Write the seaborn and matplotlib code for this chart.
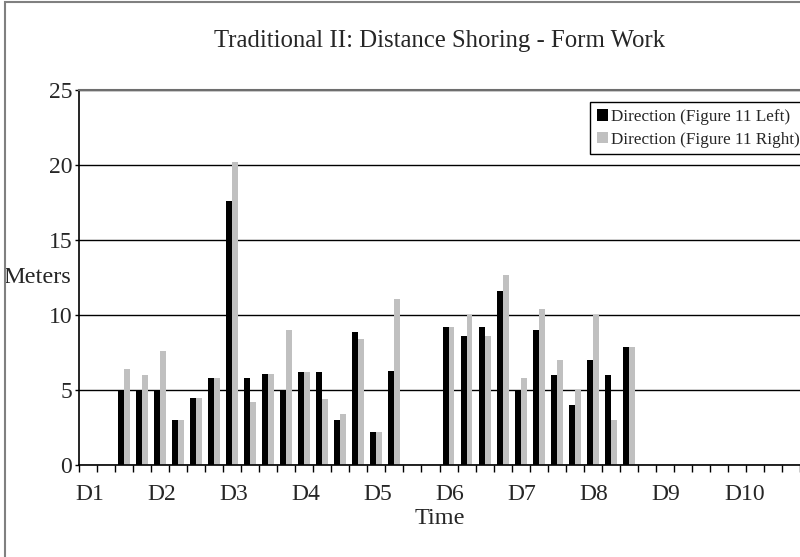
import numpy as np
import pandas as pd
import matplotlib
matplotlib.use("Agg")
import matplotlib.pyplot as plt
import matplotlib.transforms as mtransforms
from matplotlib.patches import Rectangle
import seaborn as sns

# 40 time slots (4 per day, D1..D10); empty slots are 0
day_labels = ["D1", "D2", "D3", "D4", "D5", "D6", "D7", "D8", "D9", "D10"]
left_vals = [0, 0, 5, 5, 5, 3, 4.5, 5.8, 17.6, 5.8, 6.1, 5, 6.2, 6.2, 3, 8.9, 2.2, 6.3,
             0, 0, 9.2, 8.6, 9.2, 11.6, 5, 9, 6, 4, 7, 6, 7.9,
             0, 0, 0, 0, 0, 0, 0, 0, 0]
right_vals = [0, 0, 6.4, 6, 7.6, 3, 4.5, 5.8, 20.2, 4.2, 6.1, 9, 6.2, 4.4, 3.4, 8.4, 2.2, 11.1,
              0, 0, 9.2, 10, 8.6, 12.7, 5.8, 10.4, 7, 5, 10, 3, 7.9,
              0, 0, 0, 0, 0, 0, 0, 0, 0]
series = ["Direction (Figure 11 Left)", "Direction (Figure 11 Right)"]

slots = list(range(len(left_vals)))
df = pd.DataFrame({
    "slot": slots * 2,
    "meters": left_vals + right_vals,
    "series": [series[0]] * len(slots) + [series[1]] * len(slots),
})

sns.set_style("white")
plt.rcParams["font.family"] = ["Liberation Serif", "DejaVu Serif"]

fig = plt.figure(figsize=(8, 5.57), dpi=100)
ax = fig.add_axes([79 / 800, 92 / 557, 721 / 800, 375 / 557])

sns.barplot(data=df, x="slot", y="meters", hue="series", order=slots,
            palette=["#000000", "#c0c0c0"], width=0.66, gap=0,
            saturation=1, linewidth=0, ax=ax)

ax.set_ylim(0, 25)
ax.set_xlim(-0.5, 39.15)
ax.set_yticks([0, 5, 10, 15, 20, 25])
ax.tick_params(axis="y", direction="out", length=3, width=1, pad=2,
               labelsize=17, left=True, color="black")

# tick marks at slot boundaries, day labels every 4th slot
bounds = np.arange(len(slots) + 1) - 0.5
ax.set_xticks(bounds)
xt = []
for i in range(len(bounds)):
    if i % 4 == 0 and i // 4 < len(day_labels):
        xt.append(day_labels[i // 4])
    else:
        xt.append("")
ax.set_xticklabels(xt)
ax.tick_params(axis="x", direction="out", length=5, width=1, pad=9,
               labelsize=17, bottom=True, color="black")
offset = mtransforms.ScaledTranslation(-4 / 100, 0, fig.dpi_scale_trans)
for lab in ax.get_xticklabels():
    lab.set_horizontalalignment("left")
    lab.set_transform(lab.get_transform() + offset)

ax.yaxis.grid(True, color="black", linewidth=1)
ax.set_axisbelow(True)
for s in ["left", "bottom"]:
    ax.spines[s].set_color("black")
    ax.spines[s].set_linewidth(1.2)
ax.spines["top"].set_color("#6e6e6e")
ax.spines["top"].set_linewidth(1.5)
ax.spines["right"].set_visible(False)

ax.set_title("Traditional II: Distance Shoring - Form Work", fontsize=17.8, pad=31)
ax.set_xlabel("Time", fontsize=17.5)
ax.xaxis.set_label_coords(0.5, -0.115)
ax.set_ylabel("Meters", fontsize=17.5, rotation=0, ha="center", va="center")
ax.yaxis.set_label_coords(-0.058, 0.5)

leg = ax.legend(loc="upper left", bbox_to_anchor=((590 - 79) / 721, (465 - 102) / 375),
                fontsize=12.3, frameon=True, fancybox=False, shadow=False,
                handlelength=0.65, handleheight=0.65, handletextpad=0.2,
                labelspacing=0.4, borderpad=0.4, borderaxespad=0)
leg.get_frame().set_edgecolor("black")
leg.get_frame().set_linewidth(1)
leg.get_frame().set_alpha(1)

# outer frame of the chart (left and top edges visible)
fig.patches.append(Rectangle((4.5 / 800, -0.1), 2, 1.1 - 1.5 / 557,
                             transform=fig.transFigure, fill=False,
                             edgecolor="#808080", linewidth=1.5))

fig.savefig("out.png", dpi=100)
plt.close(fig)
